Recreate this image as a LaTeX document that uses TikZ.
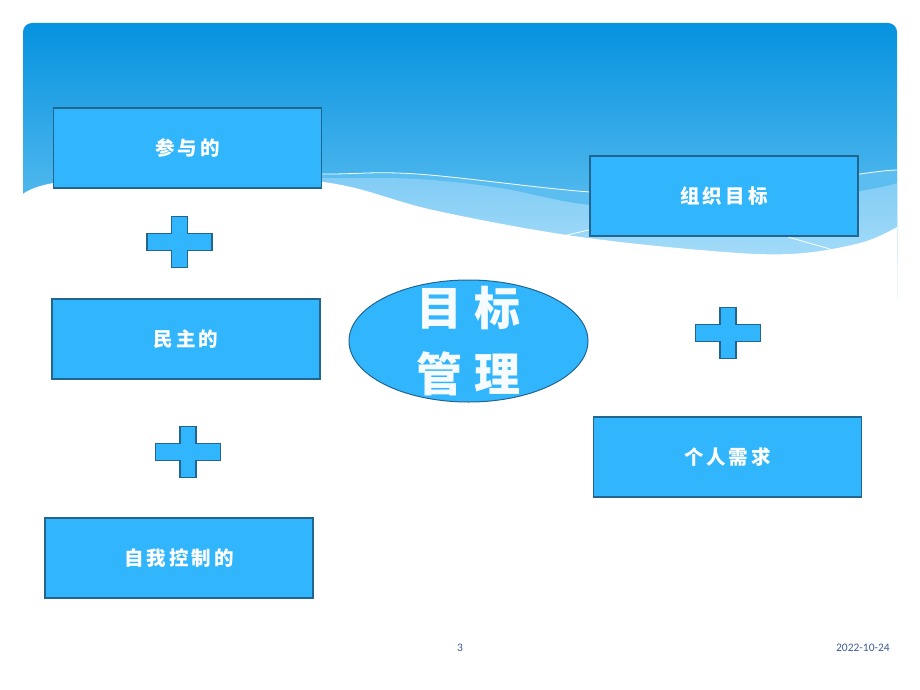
\documentclass[tikz,border=0pt]{standalone}
\usepackage{fontspec}
\newfontfamily\cjk{Noto Sans CJK SC}
\newfontfamily\footfont{Carlito}
\usetikzlibrary{shapes.geometric}
\definecolor{hdrtop}{HTML}{0592DF}
\definecolor{hdrbot}{HTML}{6CC6F3}
\definecolor{bandmid}{HTML}{5BBDF0}
\definecolor{bandtop}{HTML}{80CCF5}
\definecolor{bandbot}{HTML}{A6DCF9}
\definecolor{boxfill}{HTML}{31B6FD}
\definecolor{boxborder}{HTML}{22668F}
\definecolor{foot}{HTML}{3B5A9A}
\tikzset{
  box/.style={draw=boxborder, line width=1.1pt, fill=boxfill, minimum width=268pt,
    minimum height=80pt, inner sep=0pt, text=white,
    font=\cjk\bfseries\fontsize{19.5}{22}\selectfont},
  plussign/.pic={\draw[draw=boxborder, line width=1.1pt, fill=boxfill]
    (-8,-25.5) -- (8,-25.5) -- (8,-8.5) -- (32.5,-8.5) -- (32.5,8.5) -- (8,8.5)
    -- (8,25.5) -- (-8,25.5) -- (-8,8.5) -- (-32.5,8.5) -- (-32.5,-8.5) -- (-8,-8.5) -- cycle;},
  wline/.style={draw=white, line width=0.8pt},
  footnote/.style={text=foot, font=\footfont\fontsize{11.5}{13}\selectfont, inner sep=0pt}
}
\newcommand\gp{\kern3pt}
\begin{document}
\begin{tikzpicture}[x=1pt,y=-1pt]
\useasboundingbox (0,0) rectangle (920,690);
% header with wave
\begin{scope}
  \clip[rounded corners=9pt] (23,23) rectangle (897,320);
  \shade[top color=hdrtop, bottom color=hdrbot] (23,23) rectangle (897,262);
  \fill[bandmid] plot[smooth, tension=0.6] coordinates {(190,172) (322,174) (417,174) (590,192) (720,196) (860,174) (897,170)}
     -- (897,300) -- (190,300) -- cycle;
  \shade[top color=bandtop, bottom color=bandbot] plot[smooth, tension=0.6] coordinates {(190,175) (330,178) (417,179) (500,188) (590,205) (720,212) (860,191) (897,183)}
     -- (897,262) -- (190,262) -- cycle;
  \draw[wline] plot[smooth, tension=0.6] coordinates {(190,172) (322,174) (417,174) (590,192) (720,196) (860,174) (897,170)};
  \fill[white] plot[smooth, tension=0.6] coordinates {(23,194) (60,182) (190,172) (330,183) (433,210) (567,235) (700,250) (790,254) (860,243) (897,227)}
     -- (897,330) -- (23,330) -- cycle;
  \draw[wline] (567,235) -- (602,227);
  \draw[wline] (788,237) -- (830,249);
\end{scope}
% boxes
\node[box] (b1) at (187.5,148) {参\gp 与\gp 的};
\node[box] (b2) at (186,339) {民\gp 主\gp 的};
\node[box] (b3) at (179,558) {自\gp 我\gp 控\gp 制\gp 的};
\node[box] (b4) at (724,196) {组\gp 织\gp 目\gp 标};
\node[box] (b5) at (727.5,457) {个\gp 人\gp 需\gp 求};
% plus signs
\pic at (179.5,242) {plussign};
\pic at (188,452) {plussign};
\pic at (728,333) {plussign};
% ellipse
\node[ellipse, draw=boxborder, line width=1pt, fill=boxfill, minimum width=239pt, minimum height=122pt] (ell) at (468.5,341) {};
\node[text=white!95!boxfill, font=\cjk\bfseries\fontsize{46}{66}\selectfont, align=center, inner sep=0pt] (elltext) at (ell.center) {目\kern12pt 标\\管\kern12pt 理};
% footer
\node[footnote] (pg) at (460,648) {3};
\node[footnote, anchor=east] (dt) at (890,648) {2022-10-24};
\end{tikzpicture}
\end{document}
